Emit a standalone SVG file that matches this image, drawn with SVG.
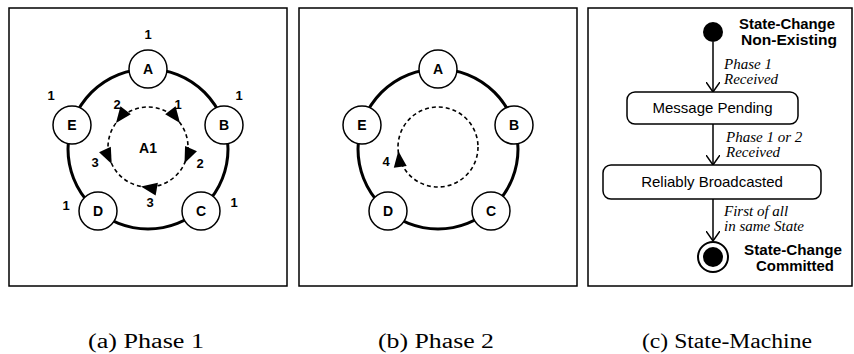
<svg xmlns="http://www.w3.org/2000/svg" width="854" height="354" viewBox="0 0 854 354">
<style>
.frame{fill:#fff;stroke:#000;stroke-width:1.5}
.ring{fill:none;stroke:#000;stroke-width:3}
.dash{fill:none;stroke:#000;stroke-width:1.6;stroke-dasharray:4 3}
.node{fill:#fff;stroke:#000;stroke-width:1.5}
.nl{font-family:"Liberation Sans",Arial,sans-serif;font-weight:bold;font-size:14px;text-anchor:middle}
.num{font-family:"Liberation Sans",Arial,sans-serif;font-weight:bold;font-size:13px;text-anchor:middle}
.st{fill:#fff;stroke:#000;stroke-width:1.5}
.stl{font-family:"Liberation Sans",Arial,sans-serif;font-size:15px;text-anchor:middle}
.bl{font-family:"Liberation Sans",Arial,sans-serif;font-weight:bold;font-size:14px;text-anchor:middle}
.it{font-family:"Liberation Serif","Times New Roman",serif;font-style:italic;font-size:15px}
.cap{font-family:"Liberation Serif","Times New Roman",serif;font-size:20px;text-anchor:middle}
.tr{fill:none;stroke:#000;stroke-width:1.5}
</style>
<defs>
<path id="ah" d="M0,0 L-16,-6.5 L-16,6.5 Z" fill="#000"/>
<marker id="vee" viewBox="0 0 10 14" refX="10" refY="7" markerWidth="10" markerHeight="14" markerUnits="userSpaceOnUse" orient="auto">
<path d="M0,0 L10,7 L0,14" fill="none" stroke="#000" stroke-width="1.5"/>
</marker>
</defs>
<rect width="854" height="354" fill="#fff"/>
<g id="frames">
<rect class="frame" x="9" y="8" width="278" height="278"/>
<rect class="frame" x="299" y="8" width="278" height="278"/>
<rect class="frame" x="588" y="8" width="264" height="278"/>
</g>
<g id="connectors">
<circle class="ring" cx="148" cy="149" r="80"/>
<circle class="dash" cx="148" cy="147" r="40"/>
<use href="#ah" transform="translate(180,123) rotate(53)"/>
<use href="#ah" transform="translate(184.5,163.3) rotate(114)"/>
<use href="#ah" transform="translate(141,186.4) rotate(190)"/>
<use href="#ah" transform="translate(116,123) rotate(127)"/>
<use href="#ah" transform="translate(111.7,163.9) rotate(65)"/>
<circle class="ring" cx="438" cy="149" r="80"/>
<circle class="dash" cx="438" cy="147" r="40"/>
<use href="#ah" transform="translate(398.3,151) rotate(-97)"/>
<line class="tr" x1="713" y1="42" x2="713" y2="92" marker-end="url(#vee)"/>
<line class="tr" x1="713" y1="124" x2="713" y2="165" marker-end="url(#vee)"/>
<line class="tr" x1="713" y1="199" x2="713" y2="241" marker-end="url(#vee)"/>
</g>
<g id="labels-a">
<text class="num" x="148" y="39">1</text>
<text class="num" x="51" y="100">1</text>
<text class="num" x="239" y="100">1</text>
<text class="num" x="66" y="210">1</text>
<text class="num" x="234" y="207">1</text>
<text class="num" x="117" y="109">2</text>
<text class="num" x="178" y="109">1</text>
<text class="num" x="200" y="168">2</text>
<text class="num" x="150" y="207">3</text>
<text class="num" x="95" y="167">3</text>
<text class="num" x="148" y="153" style="font-size:14px">A1</text>
</g>
<g id="a-A"><circle class="node" cx="148" cy="69" r="19"/><text class="nl" x="148" y="74">A</text></g>
<g id="a-B"><circle class="node" cx="224" cy="125" r="19"/><text class="nl" x="224" y="130">B</text></g>
<g id="a-C"><circle class="node" cx="201" cy="211" r="19"/><text class="nl" x="201" y="216">C</text></g>
<g id="a-D"><circle class="node" cx="98" cy="211" r="19"/><text class="nl" x="98" y="216">D</text></g>
<g id="a-E"><circle class="node" cx="72" cy="125" r="19"/><text class="nl" x="72" y="130">E</text></g>
<g id="labels-b">
<text class="num" x="386" y="166">4</text>
</g>
<g id="b-A"><circle class="node" cx="438" cy="69" r="19"/><text class="nl" x="438" y="74">A</text></g>
<g id="b-B"><circle class="node" cx="514" cy="125" r="19"/><text class="nl" x="514" y="130">B</text></g>
<g id="b-C"><circle class="node" cx="491" cy="211" r="19"/><text class="nl" x="491" y="216">C</text></g>
<g id="b-D"><circle class="node" cx="388" cy="211" r="19"/><text class="nl" x="388" y="216">D</text></g>
<g id="b-E"><circle class="node" cx="362" cy="125" r="19"/><text class="nl" x="362" y="130">E</text></g>
<g id="init">
<circle cx="713" cy="32" r="10" fill="#000"/>
<text class="bl" x="787" y="29" textLength="96" lengthAdjust="spacingAndGlyphs">State-Change</text>
<text class="bl" x="789" y="45" textLength="96" lengthAdjust="spacingAndGlyphs">Non-Existing</text>
</g>
<g id="pending">
<rect class="st" x="627" y="92" width="171" height="32" rx="8"/>
<text class="stl" x="712.5" y="113">Message Pending</text>
</g>
<g id="broadcasted">
<rect class="st" x="603" y="165" width="218" height="34" rx="8"/>
<text class="stl" x="712" y="187">Reliably Broadcasted</text>
</g>
<g id="final">
<circle cx="713" cy="257" r="15" fill="#fff" stroke="#000" stroke-width="2"/>
<circle cx="713" cy="257" r="10" fill="#000"/>
<text class="bl" x="793" y="255" textLength="98" lengthAdjust="spacingAndGlyphs">State-Change</text>
<text class="bl" x="795" y="271" textLength="78" lengthAdjust="spacingAndGlyphs">Committed</text>
</g>
<g id="transition-labels">
<text class="it" x="724" y="69">Phase 1</text>
<text class="it" x="724" y="84">Received</text>
<text class="it" x="726" y="142">Phase 1 or 2</text>
<text class="it" x="726" y="157">Received</text>
<text class="it" x="724" y="216">First of all</text>
<text class="it" x="724" y="231">in same State</text>
</g>
<g id="captions">
<text class="cap" x="146" y="348" textLength="116" lengthAdjust="spacingAndGlyphs">(a) Phase 1</text>
<text class="cap" x="436" y="348" textLength="116" lengthAdjust="spacingAndGlyphs">(b) Phase 2</text>
<text class="cap" x="727" y="348" textLength="170" lengthAdjust="spacingAndGlyphs">(c) State-Machine</text>
</g>
</svg>
